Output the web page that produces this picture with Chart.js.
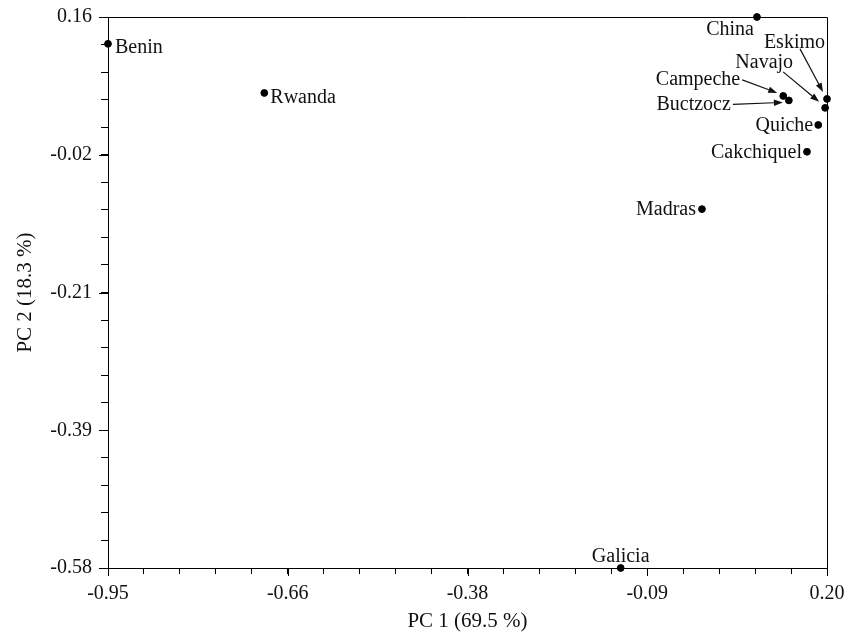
<!DOCTYPE html>
<html>
<head>
<meta charset="utf-8">
<script src="https://cdn.jsdelivr.net/npm/chart.js@4/dist/chart.umd.min.js"></script>
<style>
  html, body { margin: 0; padding: 0; background: #fff; }
  canvas { display: block; }
</style>
</head>
<body>
<canvas id="pca" width="854" height="634"></canvas>
<script>
// populations and their PCA scores
var names = ['Benin', 'Rwanda', 'China', 'Eskimo', 'Navajo', 'Campeche', 'Buctzocz', 'Quiche', 'Cakchiquel', 'Madras', 'Galicia'];
var pc1 = [-0.95, -0.70, 0.088, 0.200, 0.197, 0.130, 0.139, 0.186, 0.168, 0.000, -0.130];
var pc2 = [0.124, 0.058, 0.160, 0.050, 0.038, 0.054, 0.048, 0.015, -0.021, -0.098, -0.580];

var xTickLabels = ['-0.95', '-0.66', '-0.38', '-0.09', '0.20'];
var yTickLabels = ['-0.58', '-0.39', '-0.21', '-0.02', '0.16'];

var serif = 'Liberation Serif';

// where each name sits relative to its dot (pixels), plus optional arrow
var labelLayout = {
  'Benin':      { dx: 7,   dy: 4,   align: 'left' },
  'Rwanda':     { dx: 6,   dy: 5,   align: 'left' },
  'China':      { dx: -3,  dy: 13,  align: 'right' },
  'Eskimo':     { dx: -2,  dy: -56, align: 'right', arrow: [-27, -50, -4, -7] },
  'Navajo':     { dx: -32, dy: -45, align: 'right', arrow: [-42, -36, -6, -6] },
  'Campeche':   { dx: -43, dy: -16, align: 'right', arrow: [-41, -16, -6, -3] },
  'Buctzocz':   { dx: -58, dy: 4,   align: 'right', arrow: [-56, 4, -6, 2] },
  'Quiche':     { dx: -5,  dy: 1,   align: 'right' },
  'Cakchiquel': { dx: -5,  dy: 1,   align: 'right' },
  'Madras':     { dx: -6,  dy: 1,   align: 'right' },
  'Galicia':    { dx: 0,   dy: -11, align: 'center' }
};

var points = names.map(function (n, i) { return { x: pc1[i], y: pc2[i] }; });

function drawArrow(ctx, x1, y1, x2, y2) {
  var a = Math.atan2(y2 - y1, x2 - x1);
  var len = 9, w = 3.2;
  ctx.beginPath();
  ctx.moveTo(x1, y1);
  ctx.lineTo(x2 - len * Math.cos(a), y2 - len * Math.sin(a));
  ctx.stroke();
  ctx.beginPath();
  ctx.moveTo(x2, y2);
  ctx.lineTo(x2 - len * Math.cos(a) + w * Math.sin(a), y2 - len * Math.sin(a) - w * Math.cos(a));
  ctx.lineTo(x2 - len * Math.cos(a) - w * Math.sin(a), y2 - len * Math.sin(a) + w * Math.cos(a));
  ctx.closePath();
  ctx.fill();
}

var framePlugin = {
  id: 'frame',
  afterDraw: function (chart) {
    var ctx = chart.ctx, a = chart.chartArea;
    ctx.save();
    ctx.strokeStyle = '#000';
    ctx.lineWidth = 1;
    ctx.beginPath();
    ctx.moveTo(a.left, a.top + 0.5);
    ctx.lineTo(a.right + 0.5, a.top + 0.5);
    ctx.lineTo(a.right + 0.5, a.bottom);
    ctx.stroke();
    // labelled ticks are a little longer than the others
    var xs = chart.scales.x, ys = chart.scales.y;
    ctx.beginPath();
    xs.ticks.forEach(function (t, i) {
      if (i % 5 === 0) {
        var px = Math.round(xs.getPixelForValue(t.value)) + 0.5;
        ctx.moveTo(px, a.bottom);
        ctx.lineTo(px, a.bottom + 8);
      }
    });
    ys.ticks.forEach(function (t, i) {
      if (i % 5 === 0) {
        var py = Math.round(ys.getPixelForValue(t.value)) + 0.5;
        ctx.moveTo(a.left, py);
        ctx.lineTo(a.left - 9, py);
      }
    });
    ctx.stroke();
    ctx.restore();
  }
};

var namePlugin = {
  id: 'names',
  afterDatasetsDraw: function (chart) {
    var ctx = chart.ctx;
    var meta = chart.getDatasetMeta(0);
    ctx.save();
    ctx.fillStyle = '#111';
    ctx.strokeStyle = '#111';
    ctx.lineWidth = 1.2;
    ctx.font = '20px "' + serif + '"';
    ctx.textBaseline = 'middle';
    meta.data.forEach(function (el, i) {
      var L = labelLayout[names[i]];
      ctx.textAlign = L.align;
      ctx.fillText(names[i], el.x + L.dx, el.y + L.dy);
      if (L.arrow) {
        drawArrow(ctx, el.x + L.arrow[0], el.y + L.arrow[1], el.x + L.arrow[2], el.y + L.arrow[3]);
      }
    });
    ctx.restore();
  }
};

new Chart(document.getElementById('pca'), {
  type: 'scatter',
  data: {
    datasets: [{
      data: points,
      backgroundColor: '#000',
      borderColor: '#000',
      pointRadius: 3.4,
      pointHoverRadius: 3.4,
      clip: false
    }]
  },
  options: {
    responsive: false,
    animation: false,
    devicePixelRatio: 1,
    layout: { padding: { top: 17, right: 27, left: 0, bottom: 0 } },
    plugins: {
      legend: { display: false },
      tooltip: { enabled: false }
    },
    scales: {
      x: {
        type: 'linear',
        min: -0.95,
        max: 0.20,
        afterFit: function (s) { s.height = 66; },
        ticks: {
          stepSize: 0.0575,
          autoSkip: false,
          maxRotation: 0,
          padding: 8,
          color: '#111',
          font: { family: serif, size: 20 },
          callback: function (v, i) { return i % 5 === 0 ? xTickLabels[i / 5] : ''; }
        },
        grid: { drawOnChartArea: false, drawTicks: true, tickLength: 6, color: '#000' },
        border: { display: true, color: '#000', width: 1 },
        title: {
          display: true,
          text: 'PC 1 (69.5 %)',
          color: '#111',
          font: { family: serif, size: 21 },
          padding: { top: 0, bottom: 0 }
        }
      },
      y: {
        type: 'linear',
        min: -0.58,
        max: 0.16,
        afterFit: function (s) { s.width = 108; s.paddingTop = 0; s.paddingBottom = 0; },
        ticks: {
          stepSize: 0.037,
          autoSkip: false,
          padding: 9,
          color: '#111',
          font: { family: serif, size: 20 },
          callback: function (v, i) { return i % 5 === 0 ? yTickLabels[i / 5] : ''; }
        },
        grid: { drawOnChartArea: false, drawTicks: true, tickLength: 7, color: '#000' },
        border: { display: true, color: '#000', width: 1 },
        title: {
          display: true,
          text: 'PC 2 (18.3 %)',
          color: '#111',
          font: { family: serif, size: 21 },
          padding: { top: 13, bottom: 4 }
        }
      }
    }
  },
  plugins: [framePlugin, namePlugin]
});
</script>
</body>
</html>
